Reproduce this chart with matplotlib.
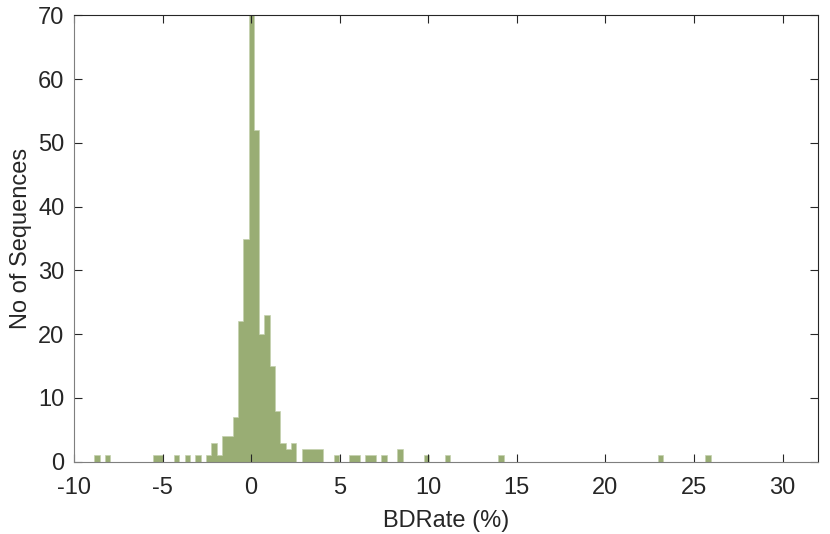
import matplotlib
matplotlib.use('Agg')
import matplotlib.pyplot as plt
import numpy as np

# histogram bins (centre of each 0.3-wide bin) and the count in it
bin_width = 0.3
bin_centers = [-8.7, -8.1, -5.4, -5.1, -4.2, -3.6, -3.0, -2.4, -2.1, -1.8,
               -1.5, -1.2, -0.9, -0.6, -0.3, 0.0, 0.3, 0.6, 0.9, 1.2,
               1.5, 1.8, 2.1, 2.4, 3.0, 3.3, 3.6, 3.9, 4.8, 5.7,
               6.0, 6.6, 6.9, 7.5, 8.4, 9.9, 11.1, 14.1, 23.1, 25.8]
counts = [1, 1, 1, 1, 1, 1, 1, 1, 3, 1,
          4, 4, 7, 22, 35, 70, 52, 20, 23, 15,
          8, 3, 2, 3, 2, 2, 2, 2, 1, 1,
          1, 1, 1, 1, 2, 1, 1, 1, 1, 1]
x_ticks = [-10, -5, 0, 5, 10, 15, 20, 25, 30]
y_ticks = [0, 10, 20, 30, 40, 50, 60, 70]

plt.rcParams['font.family'] = ['Liberation Sans', 'DejaVu Sans']
plt.rcParams['axes.unicode_minus'] = False

fig = plt.figure(figsize=(8.3, 5.34), dpi=100)
ax = fig.add_axes([0.0892, 0.1354, 0.8963, 0.8359])

# bin edges every 0.3, centred on the bin centres above
edges = np.arange(min(bin_centers) - bin_width / 2,
                  max(bin_centers) + bin_width, bin_width)
ax.hist(bin_centers, bins=edges, weights=counts, histtype='stepfilled',
        facecolor='#99ad74', edgecolor='#c4d1ae', linewidth=0.5)

ax.set_xlim(-10, 32)
ax.set_ylim(0, 70)
ax.set_xticks(x_ticks)
ax.set_yticks(y_ticks)
ax.tick_params(direction='in', length=6, width=0.8, labelsize=17,
               top=True, right=True, colors='#262626')
ax.tick_params(axis='x', pad=11)
ax.tick_params(axis='y', pad=7)
for s in ax.spines.values():
    s.set_color('#262626')
    s.set_linewidth(0.8)
for s in ['left', 'bottom']:
    ax.spines[s].set_color('#7f7f7f')

ax.set_xlabel('BDRate (%)', fontsize=17, color='#262626', labelpad=8)
ax.set_ylabel('No of Sequences', fontsize=17, color='#262626', labelpad=4)

fig.savefig('out.png', dpi=100)
